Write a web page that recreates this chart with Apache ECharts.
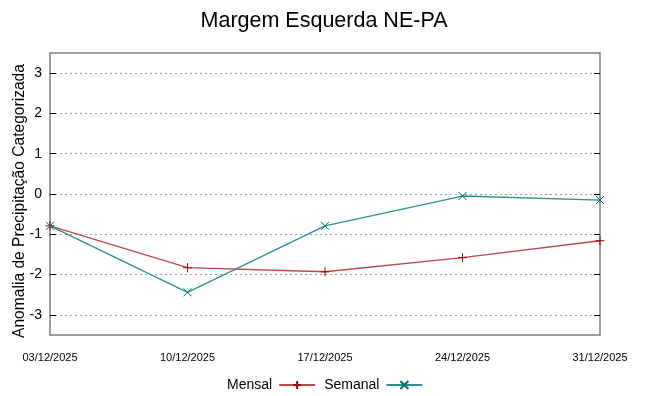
<!DOCTYPE html>
<html>
<head>
<meta charset="utf-8">
<script src="https://cdn.jsdelivr.net/npm/echarts@6/dist/echarts.min.js"></script>
<style>html,body{margin:0;padding:0;background:#fff}#c{width:648px;height:396px}</style>
</head>
<body>
<div id="c"></div>
<script>
const categories = ['03/12/2025', '10/12/2025', '17/12/2025', '24/12/2025', '31/12/2025'];
const mensal = [-0.79, -1.83, -1.93, -1.58, -1.16];
const semanal = [-0.79, -2.44, -0.79, -0.05, -0.15];
const yTicks = [-3, -2, -1, 0, 1, 2, 3];
const titleText = 'Margem Esquerda NE-PA';
const yName = 'Anomalia de Precipitação Categorizada';

const chart = echarts.init(document.getElementById('c'), null, {renderer: 'canvas'});
const plus = 'path://M0,5L10,5M5,0L5,10';
const cross = 'path://M0,0L10,10M10,0L0,10';
const font = 'Liberation Sans, Arial, sans-serif';
chart.setOption({
  animation: false,
  backgroundColor: '#fff',
  title: {text: titleText, left: 'center', top: 5, textStyle: {fontFamily: font, fontSize: 21.5, fontWeight: 'normal', color: '#000'}},
  grid: {left: 50, right: 48, top: 53, bottom: 61, show: true, borderColor: '#808080', borderWidth: 1.5, backgroundColor: 'transparent', outerBoundsMode: 'none', containLabel: false},
  legend: {
    left: 222, top: 373, align: 'right', itemWidth: 36, itemHeight: 10, itemGap: 8,
    textStyle: {fontFamily: font, fontSize: 14, color: '#000', padding: [0, 2, 0, 0]},
    data: ['Mensal', 'Semanal']
  },
  xAxis: {
    type: 'category', data: categories, boundaryGap: false,
    axisLine: {show: false}, axisTick: {show: false}, splitLine: {show: false},
    axisLabel: {fontFamily: 'Liberation Sans Narrow, Arial Narrow, ' + font, fontSize: 11, color: '#000', margin: 17, showMinLabel: true, showMaxLabel: true, interval: 0}
  },
  yAxis: [{
    type: 'value', min: -3.5, max: 3.5,
    name: yName, nameLocation: 'middle', nameGap: 22, nameRotate: 90, nameMoveOverlap: false,
    nameTextStyle: {fontFamily: font, fontSize: 15.6, color: '#000', padding: [0, 14, 0, 0]},
    axisLine: {show: false},
    axisTick: {show: true, inside: true, length: 6, customValues: yTicks, lineStyle: {color: '#000', width: 1}},
    axisLabel: {fontFamily: font, fontSize: 14, color: '#000', margin: 8, customValues: yTicks},
    splitLine: {show: true, lineStyle: {type: [2, 3], color: '#a0a0a0', width: 1}}
  }, {
    type: 'value', min: -3.5, max: 3.5, position: 'right',
    axisLine: {show: false},
    axisTick: {show: true, inside: true, length: 6, customValues: yTicks, lineStyle: {color: '#000', width: 1}},
    axisLabel: {show: false}, splitLine: {show: false}
  }],
  series: [{
    name: 'Mensal', type: 'line', data: mensal, symbol: plus, symbolSize: 9, showAllSymbol: true,
    lineStyle: {color: '#c04848', width: 1.3},
    itemStyle: {color: 'rgba(0,0,0,0)', borderColor: '#a00000', borderWidth: 1}
  }, {
    name: 'Semanal', type: 'line', data: semanal, symbol: cross, symbolSize: 8, showAllSymbol: true,
    lineStyle: {color: '#2f8f8f', width: 1.3},
    itemStyle: {color: 'rgba(0,0,0,0)', borderColor: '#007070', borderWidth: 1}
  }]
});
</script>
</body>
</html>
